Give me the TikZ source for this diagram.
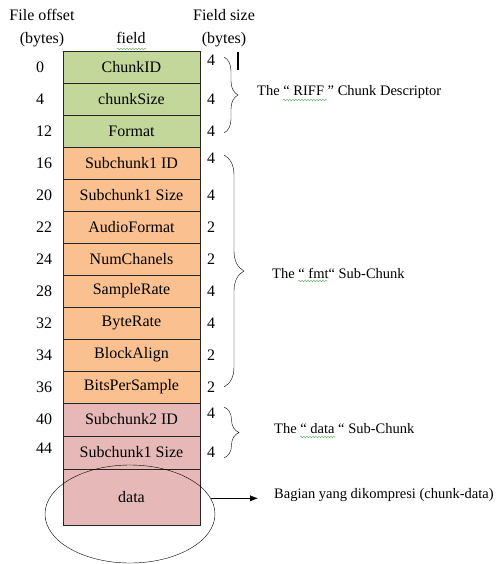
\documentclass[tikz,border=0pt]{standalone}
\usepackage{fontspec}
\setmainfont{Liberation Serif}
\usetikzlibrary{shapes.geometric,arrows.meta,decorations.pathreplacing,decorations.pathmorphing}

\definecolor{riffgreen}{RGB}{196,215,155}
\definecolor{fmtorange}{RGB}{250,192,144}
\definecolor{datapink}{RGB}{230,185,184}
\definecolor{squiggreen}{RGB}{90,170,90}

\begin{document}
\begin{tikzpicture}[x=1pt,y=-1pt,
        every node/.style={font=\fontsize{16}{18}\selectfont, inner sep=0pt},
        field/.style={draw=black!85, minimum width=137pt, minimum height=32pt},
        riff/.style={field, fill=riffgreen},
        fmt/.style={field, fill=fmtorange},
        dat/.style={field, fill=datapink},
        offset/.style={anchor=west},
        size/.style={anchor=west},
        label/.style={anchor=west, font=\fontsize{14.5}{17}\selectfont},
        squig/.style={squiggreen, thin, decorate, decoration={snake, amplitude=0.8pt, segment length=3pt}},
        chunkbrace/.style={decorate, decoration={brace, amplitude=#1}, thin}]
    \useasboundingbox (0,0) rectangle (495,564);

    % headers
    \node (hoffset) at (42,15) {File offset};
    \node (hoffbytes) at (42,40) {(bytes)};
    \node (hfield) at (131,38) {field};
    \node (hsize) at (224,15) {Field size};
    \node (hsizebytes) at (224,40) {(bytes)};
    \draw[line width=1.3pt] (238,52) -- (238,70);

    % the fields
    \node[riff] (chunkid) at (131.5,67) {ChunkID};
    \node[riff] (chunksize) at (131.5,99) {chunkSize};
    \node[riff] (format) at (131.5,131) {Format};
    \node[fmt] (subid) at (131.5,163) {Subchunk1 ID};
    \node[fmt] (subsize) at (131.5,195) {Subchunk1 Size};
    \node[fmt] (audiofmt) at (131.5,227) {AudioFormat};
    \node[fmt] (numch) at (131.5,259) {NumChanels};
    \node[fmt] (samplerate) at (131.5,291) {SampleRate};
    \node[fmt] (byterate) at (131.5,323) {ByteRate};
    \node[fmt] (blockalign) at (131.5,355) {BlockAlign};
    \node[fmt] (bitsps) at (131.5,387) {BitsPerSample};
    \node[dat, minimum height=33pt] (subtwoid) at (131.5,419.5) {Subchunk2 ID};
    \node[dat, minimum height=33pt] (subtwosize) at (131.5,452.5) {Subchunk1 Size};
    \node[dat, minimum height=56pt] (data) at (131.5,497) {data};

    % offsets
    \node[offset] (o0) at (36,67) {0};
    \node[offset] (o4) at (36,99) {4};
    \node[offset] (o12) at (36,131) {12};
    \node[offset] (o16) at (36,163) {16};
    \node[offset] (o20) at (36,195) {20};
    \node[offset] (o22) at (36,227) {22};
    \node[offset] (o24) at (36,259) {24};
    \node[offset] (o28) at (36,291) {28};
    \node[offset] (o32) at (36,323) {32};
    \node[offset] (o34) at (36,355) {34};
    \node[offset] (o36) at (36,387) {36};
    \node[offset] (o40) at (36,419) {40};
    \node[offset] (o44) at (36,448) {44};

    % sizes
    \node[size] (s1) at (207,60) {4};
    \node[size] (s2) at (207,99) {4};
    \node[size] (s3) at (207,131) {4};
    \node[size] (s4) at (207,158) {4};
    \node[size] (s5) at (207,195) {4};
    \node[size] (s6) at (207,227) {2};
    \node[size] (s7) at (207,259) {2};
    \node[size] (s8) at (207,291) {4};
    \node[size] (s9) at (207,323) {4};
    \node[size] (s10) at (207,355) {2};
    \node[size] (s11) at (207,387) {2};
    \node[size] (s12) at (207,413) {4};
    \node[size] (s13) at (207,452) {4};

    % braces and chunk names
    \draw[chunkbrace=14pt] (224,57) -- (224,133);
    \draw[chunkbrace=20pt] (224,155) -- (224,387);
    \draw[chunkbrace=15pt] (224,407) -- (224,458);
    \node[label] (riffname) at (257,92) {The “ RIFF ” Chunk Descriptor};
    \node[label] (fmtname) at (272,273) {The “ fmt“ Sub-Chunk};
    \node[label] (dataname) at (274,429) {The “ data “ Sub-Chunk};

    % spell-check marks
    \draw[squig] (117,49) -- (147,49);
    \draw[squig] (283,100) -- (327,100);
    \draw[squig] (298,281) -- (328,281);
    \draw[squig] (300,437) -- (335,437);

    % compressed part
    \node[draw, ellipse, minimum width=170pt, minimum height=98pt] (dataoval) at (130,514) {};
    \node[label] (compress) at (274,495) {Bagian yang dikompresi (chunk-data)};
    \draw[-{Latex[length=8pt,width=6pt]}, shorten >=16pt] (dataoval.11) -- (dataoval.11 -| compress.west);
\end{tikzpicture}
\end{document}
